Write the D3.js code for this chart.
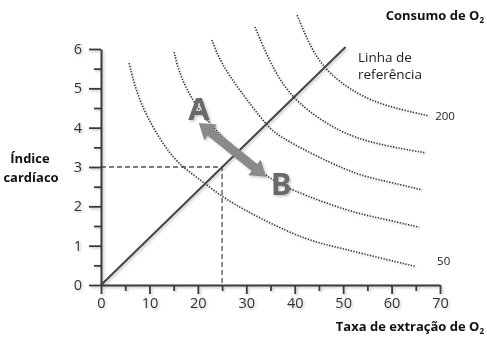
<!DOCTYPE html>
<html><head><meta charset="utf-8">
<script src="https://cdn.jsdelivr.net/npm/d3@7"></script>
<style>
body{margin:0;background:#fff}
svg{display:block}
text{font-family:"Open Sans",sans-serif}
</style>
</head><body>
<script>
// ---- data ----
const xMajorTicks = [0,10,20,30,40,50,60,70];
const xMinorTicks = [5,15,25,35,45,55,65];
const yMajorTicks = [0,1,2,3,4,5,6];
const yMinorTicks = [0.5,1.5,2.5,3.5,4.5,5.5];
const curveNames = ["50","","","","200"];
const curve1 = [[5.8,5.64],[7.8,4.63],[13.2,3.48],[16.7,3.0],[21.5,2.59],[25.2,2.21],[33.5,1.65],[42.5,1.14],[49.4,0.94],[57.6,0.69],[65.0,0.47]];
const curve2 = [[15.1,5.92],[16.3,5.29],[20.4,4.35],[27.0,3.53],[33.5,2.80],[39.0,2.42],[51.4,1.86],[57.6,1.70],[65.7,1.47]];
const curve3 = [[22.9,6.23],[24.6,5.67],[28.7,4.93],[34.3,4.04],[37.0,3.74],[51.4,2.85],[57.6,2.67],[66.3,2.42]];
const curve4 = [[31.8,6.56],[34.9,5.64],[39.4,4.70],[49.3,3.86],[57.6,3.56],[67.1,3.36]];
const curve5 = [[40.5,6.86],[43.2,6.05],[46.3,5.47],[51.4,4.96],[57.6,4.58],[67.7,4.30]];
const referenceLine = [[0,0],[50.5,6.05]];
const guidePoint = [25,3];
const arrowAB = [[20.2,4.12],[34.1,2.75]];
const pointLabels = [{t:"A",x:20.2,y:4.2},{t:"B",x:37.2,y:2.29}];

const W=487,H=352;
const svg=d3.select("body").append("svg").attr("width",W).attr("height",H);
const defs=svg.append("defs");
const f=defs.append("filter").attr("id","sh").attr("x","-20%").attr("y","-20%").attr("width","140%").attr("height","140%");
f.append("feDropShadow").attr("dx",1.5).attr("dy",1.5).attr("stdDeviation",1.2).attr("flood-color","#000").attr("flood-opacity",0.22);

const x=d3.scaleLinear().domain([0,70]).range([101,440]);
const y=d3.scaleLinear().domain([0,6]).range([285,49]);

// guides
const g0=svg.append("g");
g0.append("path").attr("d",`M${x(0)},${y(guidePoint[1])}H${x(guidePoint[0])}V${y(0)}`)
  .attr("fill","none").attr("stroke","#555").attr("stroke-width",1.3).attr("stroke-dasharray","5,3");

// curves
const line=d3.line().x(d=>x(d[0])).y(d=>y(d[1])).curve(d3.curveBasis);
const curves=[curve1,curve2,curve3,curve4,curve5];
svg.append("g").attr("filter","url(#sh)").selectAll("path").data(curves).join("path")
  .attr("d",line).attr("fill","none").attr("stroke","#333").attr("stroke-width",1.6)
  .attr("stroke-dasharray","1.3,1.5");

// reference line
svg.append("path").attr("d",d3.line().x(d=>x(d[0])).y(d=>y(d[1]))(referenceLine))
  .attr("fill","none").attr("stroke","#444").attr("stroke-width",2).attr("filter","url(#sh)");

// axes
const ax=svg.append("g").attr("filter","url(#sh)");
const xMin=ax.append("g").attr("transform",`translate(0,${y(0)})`)
  .call(d3.axisBottom(x).tickValues(xMinorTicks).tickSize(6).tickFormat(""));
const xMaj=ax.append("g").attr("transform",`translate(0,${y(0)})`)
  .call(d3.axisBottom(x).tickValues(xMajorTicks).tickSize(9).tickSizeOuter(0).tickPadding(4).tickFormat(d3.format("d")));
const yMin=ax.append("g").attr("transform",`translate(${x(0)},0)`)
  .call(d3.axisLeft(y).tickValues(yMinorTicks).tickSize(7).tickFormat(""));
const yMaj=ax.append("g").attr("transform",`translate(${x(0)},0)`)
  .call(d3.axisLeft(y).tickValues(yMajorTicks).tickSize(12).tickSizeOuter(0).tickPadding(7).tickFormat(d3.format("d")));
ax.selectAll(".domain").attr("stroke","#3a3a3a").attr("stroke-width",2);
ax.selectAll(".tick line").attr("stroke","#3a3a3a").attr("stroke-width",1.8);
ax.selectAll(".tick text").attr("font-family","'Open Sans',sans-serif").attr("font-size",14.5).attr("fill","#333");
xMin.select(".domain").remove(); yMin.select(".domain").remove();

// arrow
const p=arrowAB.map(d=>[x(d[0]),y(d[1])]);
const dx=p[1][0]-p[0][0], dy=p[1][1]-p[0][1], L=Math.hypot(dx,dy);
const u=[dx/L,dy/L], n=[-u[1],u[0]];
const hl=15, hw=10, sw=4.5;
const P=(b,a,s)=>[b[0]+u[0]*a+n[0]*s,b[1]+u[1]*a+n[1]*s];
const poly=[p[0],P(p[0],hl,hw),P(p[0],hl,sw),P(p[1],-hl,sw),P(p[1],-hl,hw),p[1],P(p[1],-hl,-hw),P(p[1],-hl,-sw),P(p[0],hl,-sw),P(p[0],hl,-hw)];
svg.append("path").attr("d","M"+poly.map(d=>d.join(",")).join("L")+"Z")
  .attr("fill","#8a8a8a").attr("filter","url(#sh)");

// A / B
svg.selectAll(".pl").data(pointLabels).join("text").attr("class","pl")
  .attr("x",d=>x(d.x)).attr("y",d=>y(d.y)).attr("text-anchor","middle")
  .attr("font-size",31).attr("font-weight",700).attr("fill","#6a6a6a").attr("filter","url(#sh)")
  .text(d=>d.t);

// curve labels
svg.append("text").attr("x",x(69)).attr("y",y(curve5[curve5.length-1][1])+4).attr("font-size",11.5).attr("fill","#222").text(curveNames[4]);
svg.append("text").attr("x",x(69.4)).attr("y",y(curve1[curve1.length-1][1])-2).attr("font-size",11.5).attr("fill","#222").text(curveNames[0]);

// annotations
svg.append("text").attr("x",358).attr("y",62).attr("font-size",13.5).attr("fill","#222").text("Linha de");
svg.append("text").attr("x",358).attr("y",79).attr("font-size",13.5).attr("fill","#222").text("referência");

const t1=svg.append("text").attr("x",484).attr("y",20).attr("text-anchor","end").attr("font-size",13).attr("font-weight",700).attr("fill","#111");
t1.append("tspan").text("Consumo de O");
t1.append("tspan").attr("font-size",8).attr("dy",3).text("2");

const t2=svg.append("text").attr("x",484).attr("y",331).attr("text-anchor","end").attr("font-size",13).attr("font-weight",700).attr("fill","#111");
t2.append("tspan").text("Taxa de extração de O");
t2.append("tspan").attr("font-size",8).attr("dy",3).text("2");

const t3=svg.append("text").attr("text-anchor","middle").attr("font-size",13).attr("font-weight",700).attr("fill","#111");
t3.append("tspan").attr("x",30).attr("y",163).text("Índice");
t3.append("tspan").attr("x",31).attr("y",182).text("cardíaco");
</script>
</body></html>
